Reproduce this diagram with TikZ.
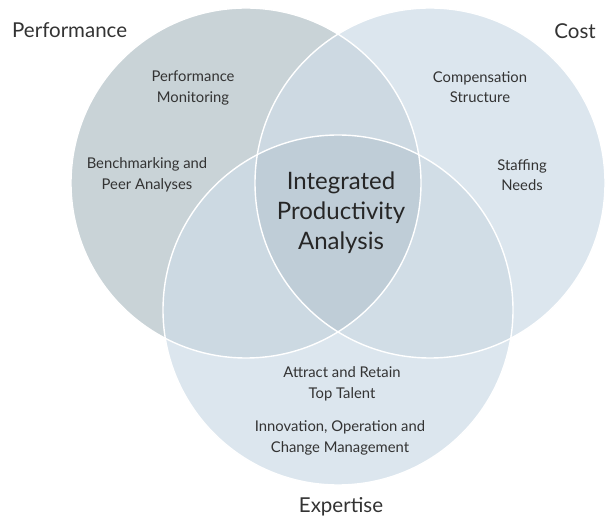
\documentclass[tikz,border=0pt]{standalone}
\usepackage{fontspec}
\setmainfont{Lato}
\begin{document}
\begin{tikzpicture}[x=1pt,y=-1pt,
  txt/.style={text=black!80, font=\fontsize{14.8}{20.5}\selectfont, align=center, inner sep=0pt},
  head/.style={text=black!80, font=\fontsize{20.5}{24}\selectfont, inner sep=0pt},
  core/.style={text=black!85, font=\fontsize{24}{30}\selectfont, align=center, inner sep=0pt},
  rim/.style={draw=white, line width=1.4pt}]
\definecolor{perfc}{HTML}{C9D3D7}
\definecolor{costc}{HTML}{DCE6EE}
\definecolor{expc}{HTML}{DCE6EE}
\definecolor{pcc}{HTML}{CDD9E2}
\definecolor{pec}{HTML}{CCD9E2}
\definecolor{cec}{HTML}{D1DDE6}
\definecolor{allc}{HTML}{BFCDD7}
\useasboundingbox (0,0) rectangle (616,518);
\coordinate (P) at (246,183);
\coordinate (C) at (430,183);
\coordinate (E) at (338,310);
\def\rr{175}
% single circles
\fill[perfc] (P) circle (\rr);
\fill[costc] (C) circle (\rr);
\fill[expc] (E) circle (\rr);
% pairwise overlaps
\begin{scope}\clip (P) circle (\rr); \fill[pcc] (C) circle (\rr);\end{scope}
\begin{scope}\clip (P) circle (\rr); \fill[pec] (E) circle (\rr);\end{scope}
\begin{scope}\clip (C) circle (\rr); \fill[cec] (E) circle (\rr);\end{scope}
% common core
\begin{scope}\clip (P) circle (\rr); \clip (C) circle (\rr); \fill[allc] (E) circle (\rr);\end{scope}
% white rims
\draw[rim] (P) circle (\rr);
\draw[rim] (C) circle (\rr);
\draw[rim] (E) circle (\rr);
% labels
\node[head, anchor=west] (perf) at (12,30) {Performance};
\node[head, anchor=east] (cost) at (596,31) {Cost};
\node[head] (exp) at (341,507) {Expertise};
\node[txt] (mon) at (193,88) {Performance\\Monitoring};
\node[txt] (bench) at (147,175) {Benchmarking and\\Peer Analyses};
\node[txt] (comp) at (480,87) {Compensation\\Structure};
\node[txt] (staff) at (522,175) {Staffing\\Needs};
\node[core] (ipa) at (341,213) {Integrated\\Productivity\\Analysis};
\node[txt] (talent) at (342,384) {Attract and Retain\\Top Talent};
\node[txt] (innov) at (340,438) {Innovation, Operation and\\Change Management};
\end{tikzpicture}
\end{document}
